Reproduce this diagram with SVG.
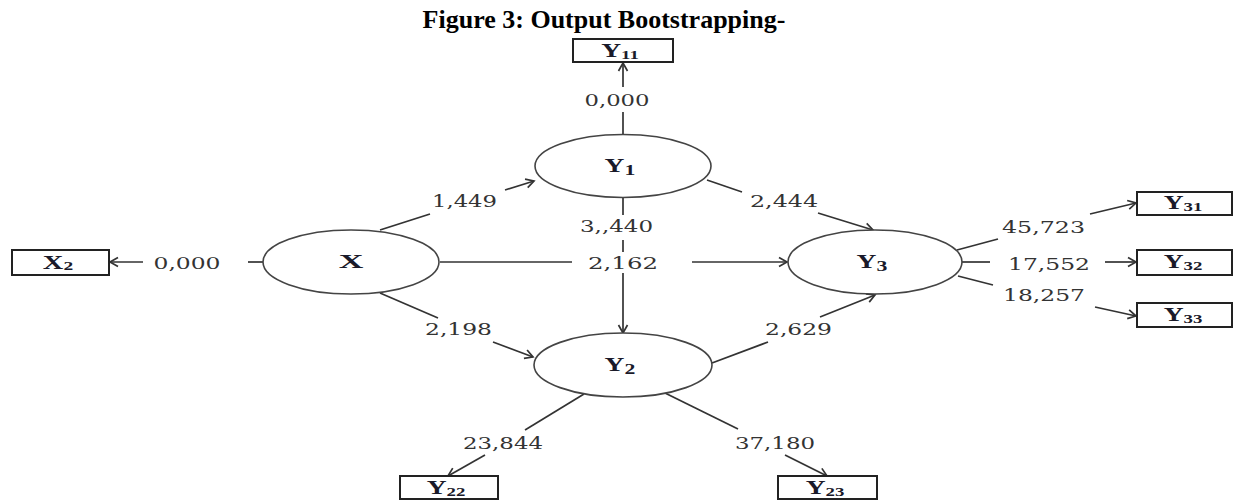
<svg xmlns="http://www.w3.org/2000/svg" width="1234" height="500" viewBox="0 0 1234 500">
<defs>
<style>
.title{font-family:"Liberation Serif","Times New Roman",serif;font-weight:bold;font-size:26px;fill:#000;text-anchor:middle}
.lv{fill:#fff;stroke:#444;stroke-width:1.6}
.box{fill:#fff;stroke:#222;stroke-width:2}
.lbl{font-family:"Liberation Serif","Times New Roman",serif;font-weight:bold;font-size:19px;fill:#1a1a2a;text-anchor:middle}
.sub{font-size:15px}
.bsub{font-size:13px}
.num{font-family:"DejaVu Serif","Liberation Serif",serif;font-size:16px;fill:#333;text-anchor:middle}
.c line{stroke:#333;stroke-width:1.7;fill:none}
.c line.a{marker-end:url(#ah)}
</style>
<marker id="ah" markerUnits="userSpaceOnUse" markerWidth="12" markerHeight="12" refX="10" refY="6" orient="auto">
<path d="M2,1.5 L10,6 L2,10.5" fill="none" stroke="#333" stroke-width="1.7"/>
</marker>
</defs>
<rect width="1234" height="500" fill="#fff"/>
<text class="title" x="604" y="28">Figure 3: Output Bootstrapping-</text>

<g class="c" id="connectors">
<line x1="623" y1="135" x2="623" y2="112"/>
<line class="a" x1="623" y1="87" x2="623" y2="63"/>
<line x1="263" y1="262" x2="248" y2="262"/>
<line class="a" x1="143" y1="262" x2="110" y2="262"/>
<line x1="380" y1="230" x2="430" y2="214"/>
<line class="a" x1="505" y1="190" x2="534" y2="181"/>
<line x1="380" y1="293" x2="438" y2="318"/>
<line class="a" x1="493" y1="342" x2="533" y2="357"/>
<line x1="440" y1="262" x2="572" y2="262"/>
<line class="a" x1="692" y1="262" x2="787" y2="262"/>
<line x1="623" y1="198" x2="623" y2="215"/>
<line x1="623" y1="240" x2="623" y2="252"/>
<line class="a" x1="623" y1="273" x2="623" y2="333"/>
<line x1="707" y1="180" x2="742" y2="192"/>
<line class="a" x1="818" y1="213" x2="873" y2="230"/>
<line x1="712" y1="363" x2="768" y2="342"/>
<line class="a" x1="820" y1="317" x2="875" y2="295"/>
<line x1="957" y1="250" x2="998" y2="239"/>
<line class="a" x1="1090" y1="214" x2="1136" y2="203"/>
<line x1="962" y1="262" x2="990" y2="262"/>
<line class="a" x1="1105" y1="262" x2="1136" y2="262"/>
<line x1="958" y1="276" x2="993" y2="285"/>
<line class="a" x1="1095" y1="307" x2="1136" y2="316"/>
<line x1="584" y1="394" x2="525" y2="430"/>
<line class="a" x1="485" y1="455" x2="448" y2="476"/>
<line x1="665" y1="393" x2="738" y2="429"/>
<line class="a" x1="785" y1="455" x2="827" y2="476"/>
</g>

<g id="labels">
<text class="num" x="617" y="106" textLength="65" lengthAdjust="spacingAndGlyphs">0,000</text>
<text class="num" x="187" y="269" textLength="67" lengthAdjust="spacingAndGlyphs">0,000</text>
<text class="num" x="464.5" y="207" textLength="65" lengthAdjust="spacingAndGlyphs">1,449</text>
<text class="num" x="458.5" y="335" textLength="67" lengthAdjust="spacingAndGlyphs">2,198</text>
<text class="num" x="616.5" y="232" textLength="73" lengthAdjust="spacingAndGlyphs">3,,440</text>
<text class="num" x="623" y="269" textLength="70" lengthAdjust="spacingAndGlyphs">2,162</text>
<text class="num" x="784" y="207" textLength="68" lengthAdjust="spacingAndGlyphs">2,444</text>
<text class="num" x="798.5" y="335" textLength="67" lengthAdjust="spacingAndGlyphs">2,629</text>
<text class="num" x="1043.5" y="233" textLength="83" lengthAdjust="spacingAndGlyphs">45,723</text>
<text class="num" x="1049" y="270" textLength="82" lengthAdjust="spacingAndGlyphs">17,552</text>
<text class="num" x="1044" y="301" textLength="82" lengthAdjust="spacingAndGlyphs">18,257</text>
<text class="num" x="503" y="449" textLength="80" lengthAdjust="spacingAndGlyphs">23,844</text>
<text class="num" x="775" y="449" textLength="80" lengthAdjust="spacingAndGlyphs">37,180</text>
</g>

<g id="node-X">
<ellipse class="lv" cx="351" cy="262" rx="88" ry="32"/>
<text class="lbl" transform="translate(351,268) scale(1.8,1)">X</text>
</g>
<g id="node-Y1">
<ellipse class="lv" cx="623" cy="166" rx="88" ry="31.5"/>
<text class="lbl" transform="translate(620,172) scale(1.45,1)">Y<tspan class="sub" dy="3">1</tspan></text>
</g>
<g id="node-Y2">
<ellipse class="lv" cx="623" cy="365" rx="89" ry="32"/>
<text class="lbl" transform="translate(620,371) scale(1.45,1)">Y<tspan class="sub" dy="3">2</tspan></text>
</g>
<g id="node-Y3">
<ellipse class="lv" cx="875" cy="262" rx="87" ry="32"/>
<text class="lbl" transform="translate(872,268) scale(1.45,1)">Y<tspan class="sub" dy="3">3</tspan></text>
</g>
<g id="node-Y11">
<rect class="box" x="573" y="39" width="100" height="23"/>
<text class="lbl" transform="translate(620,57) scale(1.45,1)">Y<tspan class="bsub" dy="2">11</tspan></text>
</g>
<g id="node-X2">
<rect class="box" x="12" y="250" width="97" height="25"/>
<text class="lbl" transform="translate(58,269) scale(1.5,1)">X<tspan class="bsub" dy="1">2</tspan></text>
</g>
<g id="node-Y31">
<rect class="box" x="1137" y="192" width="95" height="23"/>
<text class="lbl" transform="translate(1183,209) scale(1.45,1)">Y<tspan class="bsub" dy="2">31</tspan></text>
</g>
<g id="node-Y32">
<rect class="box" x="1137" y="250" width="95" height="25"/>
<text class="lbl" transform="translate(1183,268) scale(1.45,1)">Y<tspan class="bsub" dy="2">32</tspan></text>
</g>
<g id="node-Y33">
<rect class="box" x="1137" y="303" width="95" height="24"/>
<text class="lbl" transform="translate(1183,321) scale(1.45,1)">Y<tspan class="bsub" dy="2">33</tspan></text>
</g>
<g id="node-Y22">
<rect class="box" x="400" y="476" width="98" height="23"/>
<text class="lbl" transform="translate(446,494) scale(1.45,1)">Y<tspan class="bsub" dy="2">22</tspan></text>
</g>
<g id="node-Y23">
<rect class="box" x="778" y="476" width="99" height="23"/>
<text class="lbl" transform="translate(825,494) scale(1.45,1)">Y<tspan class="bsub" dy="2">23</tspan></text>
</g>
</svg>
